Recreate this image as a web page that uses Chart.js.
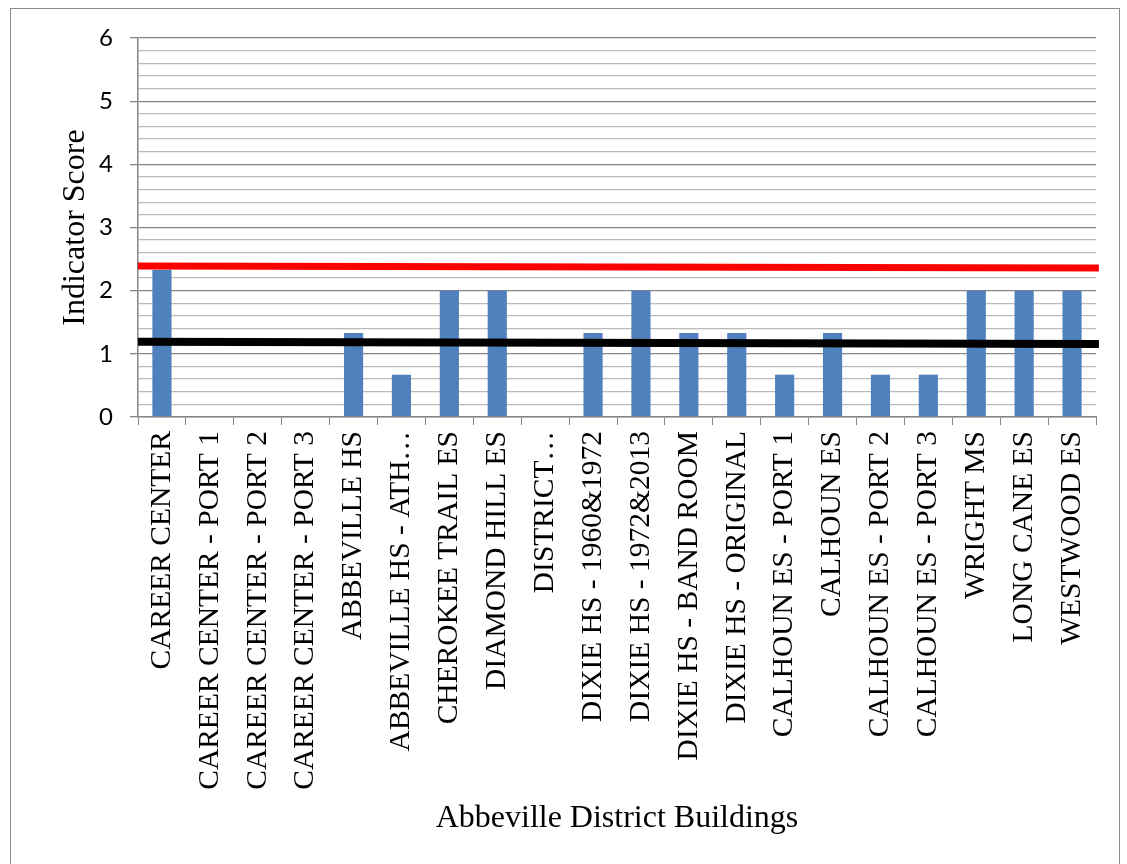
<!DOCTYPE html>
<html>
<head>
<meta charset="utf-8">
<script src="https://cdn.jsdelivr.net/npm/chart.js@4/dist/chart.umd.min.js"></script>
<style>
    body { margin: 0; background: #ffffff; }
    #wrap { position: relative; width: 1127px; height: 864px; overflow: hidden; }
    #frame { position: absolute; left: 10px; top: 8px; width: 1110px; height: 900px; border: 1px solid #8c8c8c; box-sizing: border-box; }
    #chart { position: absolute; left: 0; top: 0; }
</style>
</head>
<body>
<div id="wrap">
    <div id="frame"></div>
    <canvas id="chart" width="1127" height="864"></canvas>
</div>
<script>
// Datos del gráfico
const buildings = [
    'CAREER CENTER', 'CAREER CENTER - PORT 1', 'CAREER CENTER - PORT 2', 'CAREER CENTER - PORT 3',
    'ABBEVILLE HS', 'ABBEVILLE HS - ATH…', 'CHEROKEE TRAIL ES', 'DIAMOND HILL ES', 'DISTRICT…',
    'DIXIE HS - 1960&1972', 'DIXIE HS - 1972&2013', 'DIXIE HS - BAND ROOM', 'DIXIE HS - ORIGINAL',
    'CALHOUN ES - PORT 1', 'CALHOUN ES', 'CALHOUN ES - PORT 2', 'CALHOUN ES - PORT 3',
    'WRIGHT MS', 'LONG CANE ES', 'WESTWOOD ES'
];
const scores = [2.33, 0, 0, 0, 1.33, 0.67, 2, 2, 0, 1.33, 2, 1.33, 1.33, 0.67, 1.33, 0.67, 0.67, 2, 2, 2];

// Líneas de referencia (inicio y fin)
const redLinePos = [0, 1.003];
const redLineVals = [2.39, 2.36];
const blackLinePos = [0, 1.003];
const blackLineVals = [1.19, 1.155];

const yMin = 0;
const yMax = 6;
const yStep = 0.2;

const isMajor = v => Math.abs(v - Math.round(v)) < 1e-6;

const ctx = document.getElementById('chart').getContext('2d');
new Chart(ctx, {
    type: 'bar',
    data: {
        labels: buildings,
        datasets: [
            {
                type: 'line',
                xAxisID: 'x2',
                data: redLinePos.map((p, i) => ({ x: p, y: redLineVals[i] })),
                borderColor: '#ff0000',
                borderWidth: 7,
                pointRadius: 0,
                clip: false,
                order: 0
            },
            {
                type: 'line',
                xAxisID: 'x2',
                data: blackLinePos.map((p, i) => ({ x: p, y: blackLineVals[i] })),
                borderColor: '#000000',
                borderWidth: 8,
                pointRadius: 0,
                clip: false,
                order: 0
            },
            {
                type: 'bar',
                xAxisID: 'x',
                data: scores,
                backgroundColor: '#4f81bd',
                grouped: false,
                categoryPercentage: 1,
                barPercentage: 0.4,
                order: 1
            }
        ]
    },
    options: {
        responsive: false,
        animation: false,
        layout: { padding: { top: 38, right: 31, left: 0, bottom: 0 } },
        plugins: {
            legend: { display: false },
            tooltip: { enabled: false }
        },
        scales: {
            x: {
                type: 'category',
                position: 'bottom',
                afterFit: s => { s.height = 864 - 417; },
                grid: { drawOnChartArea: false, color: '#868686', tickLength: 8 },
                border: { color: '#868686', width: 1.5 },
                ticks: {
                    autoSkip: false,
                    minRotation: 90,
                    maxRotation: 90,
                    padding: 6,
                    color: '#000000',
                    font: { family: 'Liberation Serif', size: 29.5 }
                },
                title: {
                    display: true,
                    text: 'Abbeville District Buildings',
                    color: '#000000',
                    font: { family: 'Liberation Serif', size: 32 },
                    padding: { top: 0, bottom: 26 }
                }
            },
            x2: {
                type: 'linear',
                display: false,
                offset: false,
                min: 0,
                max: 1
            },
            y: {
                min: yMin,
                max: yMax,
                afterFit: s => { s.width = 138; },
                grid: {
                    color: c => isMajor(c.tick.value) ? '#868686' : '#bababa',
                    tickColor: c => isMajor(c.tick.value) ? '#868686' : 'rgba(0,0,0,0)',
                    tickLength: 8,
                    lineWidth: 1.3
                },
                border: { color: '#868686', width: 1.5 },
                ticks: {
                    stepSize: yStep,
                    maxTicksLimit: 100,
                    autoSkip: false,
                    padding: 17,
                    color: '#000000',
                    font: { family: 'Lato', size: 24 },
                    callback: v => isMajor(v) ? String(Math.round(v)) : ''
                },
                title: {
                    display: true,
                    text: 'Indicator Score',
                    color: '#000000',
                    font: { family: 'Liberation Serif', size: 32 },
                    padding: { top: 56, bottom: 0 }
                }
            }
        }
    }
});
</script>
</body>
</html>
